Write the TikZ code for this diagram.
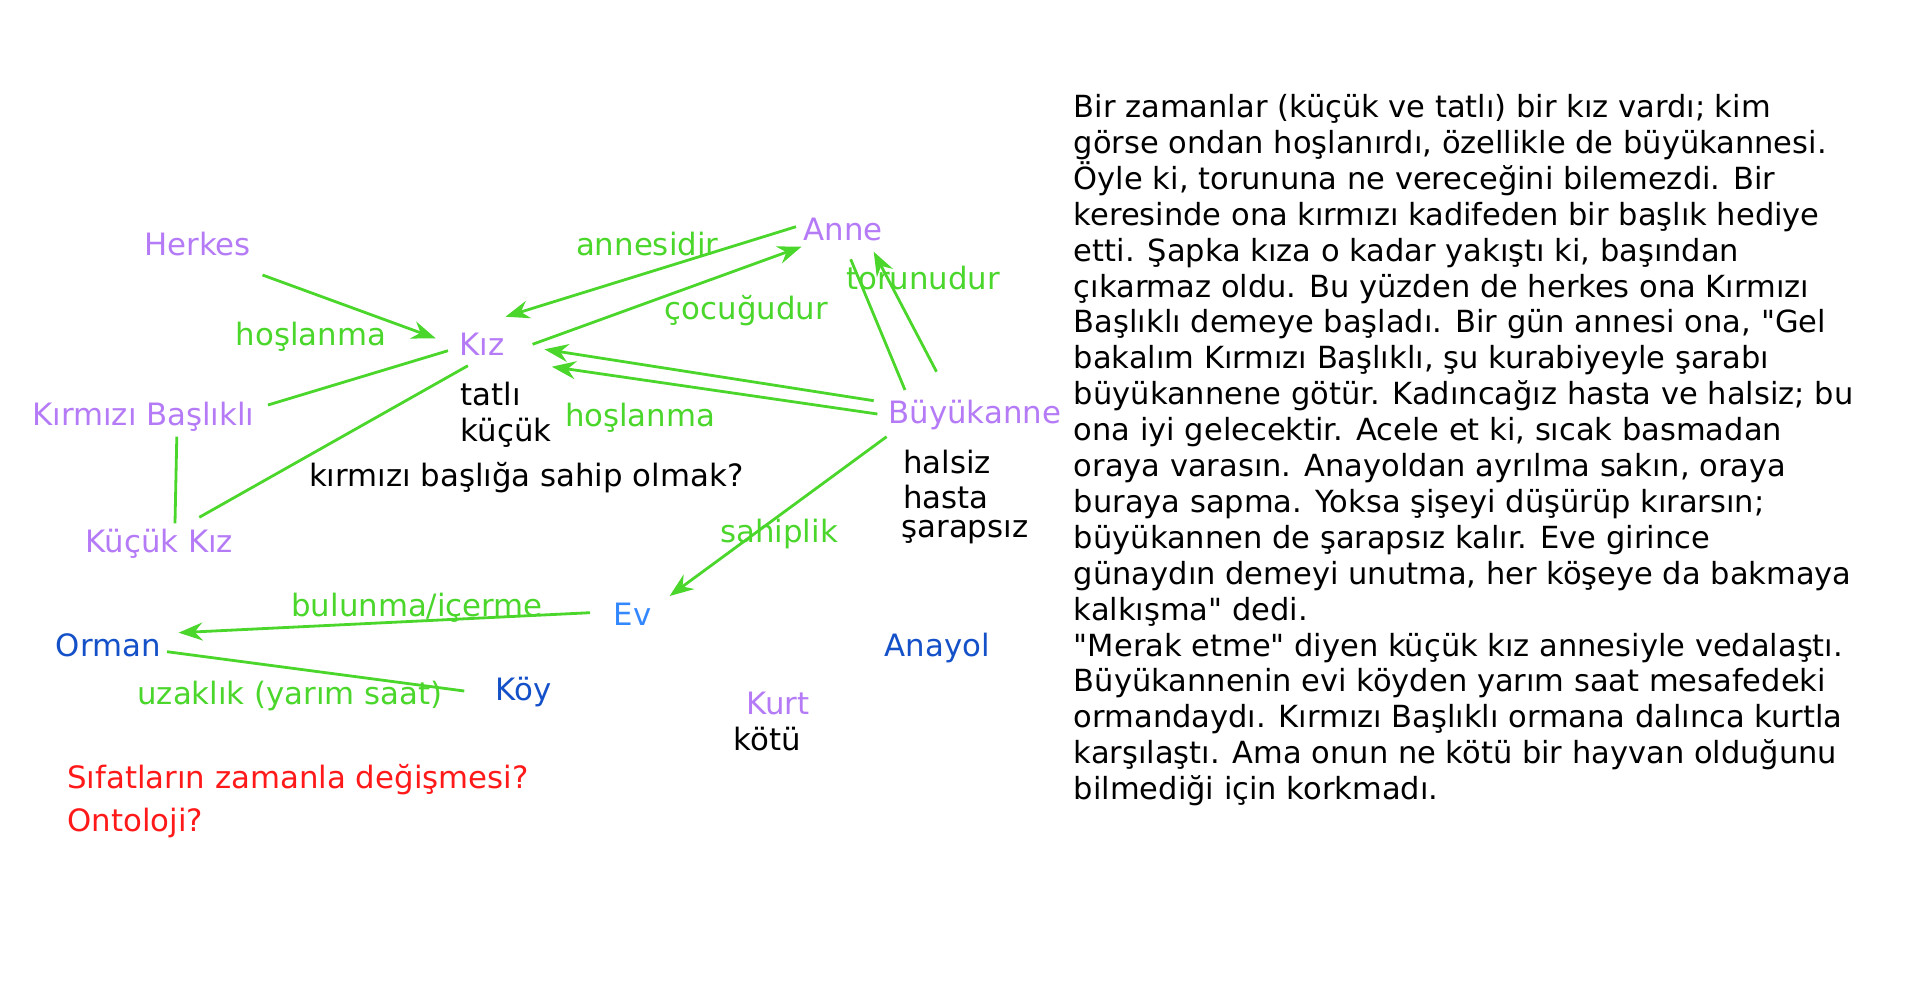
\documentclass[tikz,border=0pt]{standalone}
\usepackage{fontspec}
\setmainfont{DejaVu Sans}[Ligatures=TeXOff]
\usetikzlibrary{arrows.meta}
\definecolor{purp}{RGB}{181,123,247}
\definecolor{grn}{RGB}{74,214,43}
\definecolor{evblue}{RGB}{51,136,255}
\definecolor{dblue}{RGB}{20,80,200}
\definecolor{qred}{RGB}{255,25,25}
\tikzset{
  lbl/.style={anchor=base west, inner sep=0pt, font=\fontsize{15.4pt}{18pt}\selectfont},
  ent/.style={lbl, text=purp},
  place/.style={lbl, text=dblue},
  rel/.style={lbl, text=grn},
  attr/.style={lbl, text=black},
  quest/.style={lbl, text=qred},
  para/.style={anchor=base west, inner sep=0pt, font=\fontsize{15.25pt}{18pt}\selectfont},
  link/.style={draw=grn, line width=1.4pt},
  arr/.style={link, -{Stealth[length=12pt, width=9pt, inset=4pt]}}
}
\begin{document}
\begin{tikzpicture}[x=0.5pt, y=-0.5pt]
\useasboundingbox (0,0) rectangle (1920,1001);
\fill[white] (0,0) rectangle (1920,1001);

% entity nodes
\node[ent] (herkes) at (144,255) {Herkes};
\node[ent] (kiz) at (459,355) {Kız};
\node[ent] (kb) at (32,425) {Kırmızı Başlıklı};
\node[ent] (kk) at (85.5,552) {Küçük Kız};
\node[ent] (anne) at (803,240) {Anne};
\node[ent] (ba) at (888,423.3) {Büyükanne};
\node[ent] (kurt) at (746,714) {Kurt};
\node[lbl, text=evblue] (ev) at (613.4,625) {Ev};
\node[place] (orman) at (55.4,656.7) {Orman};
\node[place] (koy) at (495.4,700.7) {Köy};
\node[place] (anayol) at (884.5,656.7) {Anayol};

% attributes
\node[attr] (tatli) at (460.5,405) {tatlı};
\node[attr] (kucuk) at (460.5,441.7) {küçük};
\node[attr] (sahip) at (308.7,486.7) {kırmızı başlığa sahip olmak?};
\node[attr] (halsiz) at (903,473) {halsiz};
\node[attr] (hasta) at (903,508) {hasta};
\node[attr] (sarapsiz) at (901,537.5) {şarapsız};
\node[attr] (kotu) at (733,750) {kötü};

% relation labels
\node[rel] (l1) at (235.5,345) {hoşlanma};
\node[rel] (l2) at (575.7,255.7) {annesidir};
\node[rel] (l3) at (664.5,319) {çocuğudur};
\node[rel] (l4) at (564.6,426.7) {hoşlanma};
\node[rel] (l5) at (845.8,289.3) {torunudur};
\node[rel] (l6) at (720,542) {sahiplik};
\node[rel] (l7) at (291,616.7) {bulunma/içerme};
\node[rel] (l8) at (137,704) {uzaklık (yarım saat)};

% questions
\node[quest] (q1) at (67,788.3) {Sıfatların zamanla değişmesi?};
\node[quest] (q2) at (67,831.7) {Ontoloji?};

% connector end points
\coordinate (herkesE) at (262.5,275);
\coordinate (kizW) at (435.7,338.3);
\coordinate (kizA) at (448,350.7);
\coordinate (kbE) at (268,405);
\coordinate (kbS) at (176.8,436.7);
\coordinate (kkN) at (175,523.3);
\coordinate (kizB) at (467.9,365.7);
\coordinate (kkE) at (199.3,517.3);
\coordinate (anneW) at (796,226.7);
\coordinate (kizNE) at (505.5,316.7);
\coordinate (kizE) at (532.6,344.3);
\coordinate (anneSW) at (801.5,246.7);
\coordinate (baW1) at (873.7,400.7);
\coordinate (kizE1) at (544.4,349.3);
\coordinate (baW2) at (877.4,414);
\coordinate (kizE2) at (551.8,366.7);
\coordinate (baN1) at (905,390);
\coordinate (anneS1) at (850.7,259.3);
\coordinate (baN2) at (936.5,371.7);
\coordinate (anneS2) at (873.7,251.7);
\coordinate (baS) at (886.6,436.7);
\coordinate (evNE) at (669.6,596);
\coordinate (evW) at (590,612.7);
\coordinate (ormanE) at (178.6,632.7);
\coordinate (ormanSE) at (167,651.7);
\coordinate (koyW) at (464.3,691);

% connectors
\draw[arr] (herkesE) -- (kizW);
\draw[link] (kizA) -- (kbE);
\draw[link] (kbS) -- (kkN);
\draw[link] (kizB) -- (kkE);
\draw[arr] (anneW) -- (kizNE);
\draw[arr] (kizE) -- (anneSW);
\draw[arr] (baW1) -- (kizE1);
\draw[arr] (baW2) -- (kizE2);
\draw[link] (baN1) -- (anneS1);
\draw[arr] (baN2) -- (anneS2);
\draw[arr] (baS) -- (evNE);
\draw[arr] (evW) -- (ormanE);
\draw[link] (ormanSE) -- (koyW);

% story text
\node[para] (t1) at (1073.5,117.5) {Bir zamanlar (küçük ve tatlı) bir kız vardı; kim};
\node[para] (t2) at (1073.5,153.4) {görse ondan hoşlanırdı, özellikle de büyükannesi.};
\node[para] (t3) at (1073.5,189.3) {Öyle ki, torununa ne vereceğini bilemezdi. Bir};
\node[para] (t4) at (1073.5,225.2) {keresinde ona kırmızı kadifeden bir başlık hediye};
\node[para] (t5) at (1073.5,261.1) {etti. Şapka kıza o kadar yakıştı ki, başından};
\node[para] (t6) at (1073.5,297) {çıkarmaz oldu. Bu yüzden de herkes ona Kırmızı};
\node[para] (t7) at (1073.5,332.9) {Başlıklı demeye başladı. Bir gün annesi ona, "Gel};
\node[para] (t8) at (1073.5,368.8) {bakalım Kırmızı Başlıklı, şu kurabiyeyle şarabı};
\node[para] (t9) at (1073.5,404.7) {büyükannene götür. Kadıncağız hasta ve halsiz; bu};
\node[para] (t10) at (1073.5,440.6) {ona iyi gelecektir. Acele et ki, sıcak basmadan};
\node[para] (t11) at (1073.5,476.5) {oraya varasın. Anayoldan ayrılma sakın, oraya};
\node[para] (t12) at (1073.5,512.4) {buraya sapma. Yoksa şişeyi düşürüp kırarsın;};
\node[para] (t13) at (1073.5,548.3) {büyükannen de şarapsız kalır. Eve girince};
\node[para] (t14) at (1073.5,584.2) {günaydın demeyi unutma, her köşeye da bakmaya};
\node[para] (t15) at (1073.5,620.1) {kalkışma" dedi.};
\node[para] (t16) at (1073.5,656) {"Merak etme" diyen küçük kız annesiyle vedalaştı.};
\node[para] (t17) at (1073.5,691.9) {Büyükannenin evi köyden yarım saat mesafedeki};
\node[para] (t18) at (1073.5,727.8) {ormandaydı. Kırmızı Başlıklı ormana dalınca kurtla};
\node[para] (t19) at (1073.5,763.7) {karşılaştı. Ama onun ne kötü bir hayvan olduğunu};
\node[para] (t20) at (1073.5,799.6) {bilmediği için korkmadı.};
\end{tikzpicture}
\end{document}
